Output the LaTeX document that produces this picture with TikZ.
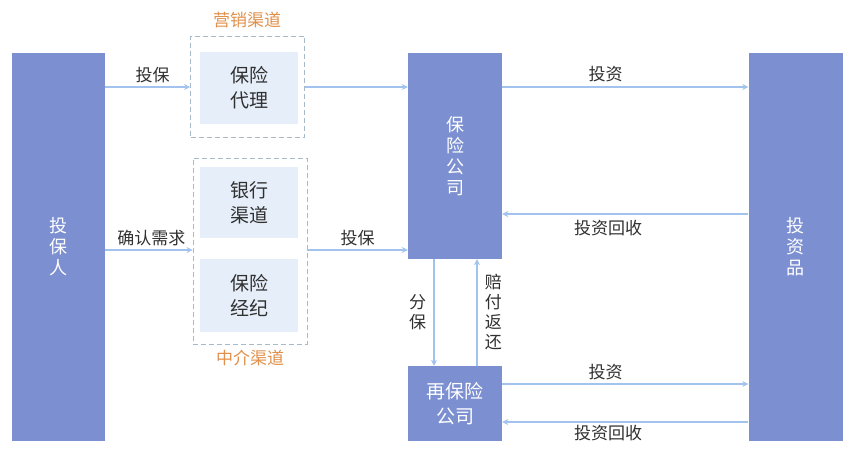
\documentclass[tikz,border=0pt]{standalone}
\usepackage{fontspec}
\newfontfamily\cjk{Noto Sans CJK SC}
\usetikzlibrary{arrows.meta}
\definecolor{barblue}{HTML}{7B8FD1}
\definecolor{boxfill}{HTML}{E6EEF9}
\definecolor{dashgray}{HTML}{A7BAC9}
\definecolor{flowblue}{HTML}{A2C3EE}
\definecolor{chanorange}{HTML}{E0904A}
\definecolor{txtgray}{HTML}{303030}

\begin{document}
\begin{tikzpicture}[x=1pt, y=-1pt,
    bar/.style={fill=barblue, draw=none, inner sep=0pt, text=white, align=center,
        font=\cjk\fontsize{18}{21}\selectfont},
    channel/.style={fill=boxfill, draw=none, inner sep=0pt, minimum width=98pt,
        text=txtgray, align=center, font=\cjk\fontsize{19}{25}\selectfont},
    group/.style={draw=dashgray, line width=0.9pt, dash pattern=on 5pt off 3pt,
        inner sep=0pt, minimum width=114pt},
    grouplabel/.style={text=chanorange, font=\cjk\fontsize{17}{20}\selectfont},
    flow/.style={draw=flowblue, line width=1.8pt, -{Stealth[length=6pt,width=6pt]}},
    lbl/.style={text=txtgray, font=\cjk\fontsize{17}{20}\selectfont, inner sep=1pt},
    vlbl/.style={text=txtgray, align=center, font=\cjk\fontsize{17}{20}\selectfont, inner sep=1pt}]
    \useasboundingbox (0,0) rectangle (856,457);
    % Side bars
    \node[bar, minimum width=93pt, minimum height=388pt] (Buyer) at (58.5,247) {投\\保\\人};
    \node[bar, minimum width=94pt, minimum height=388pt] (Product) at (795.5,247) {投\\资\\品};
    % Companies
    \node[bar, minimum width=94pt, minimum height=206pt] (Insurer) at (455,156) {保\\险\\公\\司};
    \node[bar, minimum width=94pt, minimum height=75pt,
        font=\cjk\fontsize{19}{25}\selectfont] (Reinsurer) at (455,403.5) {再保险\\公司};
    % Channels
    \node[group, minimum height=101pt] (Sales) at (247.5,86.5) {};
    \node[grouplabel] at (247,20) {营销渠道};
    \node[channel, minimum height=72pt] (Agent) at (249,88) {保险\\代理};
    \node[group, minimum height=186pt] (Broker) at (250,251) {};
    \node[grouplabel] at (250,358) {中介渠道};
    \node[channel, minimum height=71pt] (Bank) at (249,202.5) {银行\\渠道};
    \node[channel, minimum height=73pt] (Broking) at (249,295.5) {保险\\经纪};
    % Arrows
    \draw[flow] (Buyer.east |- 0,87) -- (Sales.west |- 0,87)
        node[lbl, pos=0.56, above=2pt] {投保};
    \draw[flow] (Sales.east |- 0,87) -- (Insurer.west |- 0,87);
    \draw[flow] (Buyer.east |- 0,250) -- (Broker.west |- 0,250)
        node[lbl, pos=0.53, above=2pt] {确认需求};
    \draw[flow] (Broker.east |- 0,250) -- (Insurer.west |- 0,250)
        node[lbl, midway, above=2pt] {投保};
    \draw[flow] (Insurer.east |- 0,87) -- (Product.west |- 0,87)
        node[lbl, pos=0.42, above=3pt] {投资};
    \draw[flow] (Product.west |- 0,214) -- (Insurer.east |- 0,214)
        node[lbl, pos=0.57, below=4pt] {投资回收};
    \draw[flow] (Insurer.south -| 434,0) -- (Reinsurer.north -| 434,0)
        node[vlbl, midway, left=6pt] {分\\保};
    \draw[flow] (Reinsurer.north -| 477,0) -- (Insurer.south -| 477,0)
        node[vlbl, midway, right=6pt] {赔\\付\\返\\还};
    \draw[flow] (Reinsurer.east |- 0,384) -- (Product.west |- 0,384)
        node[lbl, pos=0.42, above=2pt] {投资};
    \draw[flow] (Product.west |- 0,422) -- (Reinsurer.east |- 0,422)
        node[lbl, pos=0.57, below=1pt] {投资回收};
\end{tikzpicture}
\end{document}
